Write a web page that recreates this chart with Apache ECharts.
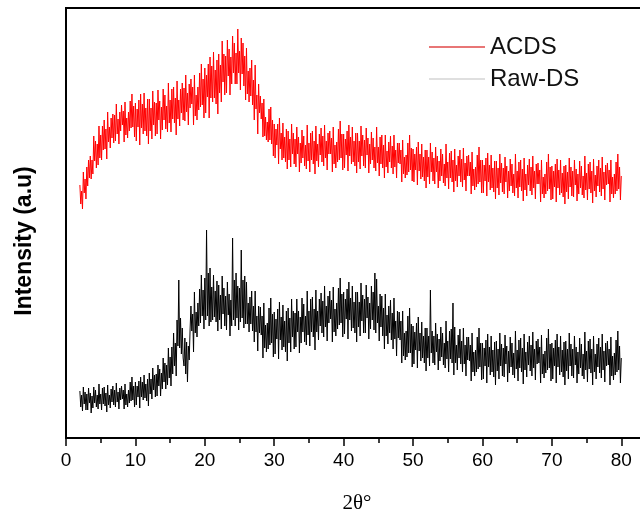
<!DOCTYPE html>
<html>
<head>
	<meta charset="UTF-8">
	<title>XRD</title>
	<style>
		html, body { margin: 0; padding: 0; background: #fff; }
	</style>
</head>
<body>
<div id="main" style="width: 640px; height: 520px;"></div>

<script src="https://cdn.jsdelivr.net/npm/echarts/dist/echarts.min.js" type="text/javascript"></script>
<script type="text/javascript">
	// scan from 2 to 80 degrees, one reading every 0.125 degree
	var scanStart = 2;
	var scanStep = 0.125;
	var xTicks = [0, 10, 20, 30, 40, 50, 60, 70, 80];
	var seriesNames = ['ACDS', 'Raw-DS'];

	// intensities (a.u.), 8 readings per degree
	var acds = [
		253, 234, 247, 229, 266, 245, 259, 239,
		271, 252, 278, 260, 282, 259, 278, 264,
		302, 277, 297, 270, 294, 273, 312, 280,
		303, 278, 312, 288, 318, 289, 309, 279,
		326, 296, 311, 290, 320, 300, 324, 295,
		323, 297, 334, 304, 319, 294, 326, 307,
		333, 313, 327, 296, 336, 303, 320, 300,
		326, 307, 337, 310, 344, 311, 332, 301,
		335, 297, 329, 311, 338, 293, 344, 310,
		334, 304, 345, 307, 330, 302, 339, 294,
		339, 307, 330, 299, 347, 313, 336, 302,
		335, 304, 348, 318, 337, 299, 331, 308,
		349, 318, 343, 309, 332, 306, 355, 315,
		338, 306, 349, 319, 351, 315, 340, 303,
		357, 319, 338, 312, 349, 325, 355, 318,
		350, 317, 363, 326, 345, 313, 354, 330,
		359, 334, 351, 313, 363, 322, 343, 318,
		351, 328, 365, 331, 374, 333, 359, 320,
		370, 325, 363, 341, 374, 320, 381, 340,
		372, 336, 386, 340, 368, 334, 378, 324,
		384, 345, 373, 336, 397, 356, 384, 343,
		382, 345, 398, 362, 389, 343, 381, 354,
		402, 365, 395, 354, 385, 354, 409, 365,
		387, 348, 400, 364, 395, 352, 382, 338,
		390, 344, 367, 336, 370, 342, 378, 333,
		358, 318, 373, 329, 343, 304, 354, 325,
		342, 319, 335, 301, 339, 302, 321, 298,
		316, 296, 329, 298, 331, 294, 318, 282,
		314, 280, 309, 293, 314, 274, 320, 289,
		305, 278, 315, 280, 301, 276, 309, 269,
		307, 278, 299, 271, 314, 284, 305, 274,
		299, 271, 311, 284, 301, 266, 295, 275,
		308, 280, 302, 272, 293, 269, 313, 277,
		295, 266, 305, 278, 307, 274, 297, 264,
		312, 277, 294, 271, 304, 283, 310, 276,
		302, 272, 313, 280, 297, 268, 305, 284,
		307, 284, 300, 266, 311, 274, 293, 270,
		296, 276, 309, 278, 317, 280, 304, 268,
		304, 270, 299, 283, 307, 267, 313, 282,
		301, 274, 311, 276, 297, 272, 305, 265,
		305, 276, 297, 269, 312, 282, 303, 272,
		298, 270, 310, 283, 300, 265, 294, 274,
		306, 278, 300, 270, 291, 267, 311, 275,
		291, 262, 301, 274, 303, 270, 293, 260,
		303, 271, 287, 265, 296, 276, 302, 270,
		292, 264, 303, 271, 288, 260, 295, 275,
		295, 274, 288, 256, 298, 264, 281, 260,
		283, 263, 295, 266, 303, 268, 290, 257,
		289, 256, 284, 268, 291, 253, 296, 267,
		284, 259, 294, 261, 281, 257, 288, 250,
		288, 261, 281, 254, 295, 266, 286, 257,
		280, 254, 291, 266, 282, 250, 277, 257,
		289, 262, 284, 255, 274, 252, 294, 260,
		276, 249, 285, 260, 287, 256, 278, 246,
		289, 257, 273, 251, 282, 262, 288, 256,
		279, 251, 290, 258, 275, 247, 282, 262,
		283, 262, 276, 244, 286, 252, 269, 248,
		271, 251, 283, 254, 291, 256, 278, 245,
		278, 245, 273, 257, 280, 242, 285, 256,
		273, 248, 283, 250, 270, 246, 277, 239,
		277, 250, 270, 243, 284, 255, 275, 246,
		270, 244, 281, 256, 272, 240, 267, 247,
		279, 252, 274, 245, 264, 242, 284, 250,
		267, 240, 276, 251, 278, 247, 269, 237,
		280, 248, 264, 242, 273, 253, 279, 247,
		271, 243, 282, 250, 267, 239, 274, 254,
		275, 254, 268, 236, 278, 244, 261, 240,
		264, 244, 276, 247, 284, 249, 271, 238,
		272, 239, 267, 251, 274, 236, 279, 250,
		268, 243, 278, 245, 265, 241, 272, 234,
		273, 246, 266, 239, 280, 251, 271, 242,
		267, 241, 278, 253, 269, 237, 264, 244,
		277, 250, 272, 243, 262, 240, 282, 248,
		265, 238, 274, 249, 276, 245, 267, 235,
		279, 247, 263, 241, 272, 252, 278, 246,
		270, 242, 281, 249, 266, 238, 273, 253,
		275, 254, 268, 236, 278, 244, 261, 240,
		264, 244, 276, 247, 284, 249, 271, 238,
		262
	];

	var rawDs = [
		47, 31, 43, 27, 51, 34, 46, 28,
		44, 28, 50, 35, 45, 25, 42, 30,
		51, 35, 48, 31, 43, 29, 54, 34,
		44, 28, 50, 34, 51, 32, 45, 26,
		53, 33, 43, 30, 49, 36, 52, 33,
		48, 31, 55, 36, 46, 29, 50, 38,
		52, 39, 48, 29, 54, 33, 44, 31,
		48, 35, 56, 37, 61, 38, 52, 31,
		56, 33, 52, 41, 57, 30, 61, 41,
		56, 38, 63, 40, 54, 37, 59, 32,
		65, 44, 59, 39, 70, 48, 63, 41,
		64, 42, 73, 52, 69, 42, 65, 49,
		80, 56, 75, 49, 73, 53, 90, 60,
		81, 52, 91, 64, 105, 72, 95, 62,
		118, 92, 158, 90, 120, 84, 110, 80,
		72, 100, 64, 96, 56, 92, 78, 108,
		132, 107, 124, 86, 146, 105, 126, 101,
		135, 112, 149, 115, 163, 122, 148, 109,
		160, 118, 208, 122, 165, 112, 170, 116,
		151, 118, 163, 121, 147, 116, 157, 107,
		153, 118, 143, 109, 162, 124, 150, 112,
		142, 108, 156, 123, 144, 102, 138, 112,
		200, 118, 158, 112, 165, 120, 152, 108,
		150, 116, 188, 120, 158, 110, 162, 114,
		156, 114, 135, 106, 141, 114, 147, 107,
		132, 96, 147, 106, 122, 87, 132, 105,
		131, 103, 122, 80, 135, 90, 113, 86,
		115, 89, 130, 93, 140, 95, 124, 81,
		126, 84, 119, 99, 129, 79, 136, 98,
		121, 88, 133, 91, 117, 86, 127, 77,
		130, 95, 120, 86, 139, 101, 127, 89,
		125, 91, 139, 106, 127, 85, 121, 95,
		140, 106, 134, 96, 122, 93, 147, 103,
		127, 92, 139, 106, 141, 101, 129, 88,
		148, 106, 127, 98, 139, 112, 145, 105,
		137, 101, 152, 111, 132, 97, 142, 115,
		147, 119, 138, 96, 151, 106, 129, 102,
		135, 109, 150, 113, 160, 115, 144, 101,
		146, 104, 139, 119, 149, 99, 156, 118,
		140, 107, 152, 110, 136, 105, 146, 96,
		146, 111, 136, 102, 155, 117, 143, 105,
		139, 105, 153, 120, 141, 99, 135, 109,
		152, 118, 146, 108, 165, 105, 159, 115,
		132, 97, 144, 111, 142, 102, 130, 89,
		144, 102, 123, 94, 132, 105, 138, 98,
		125, 89, 140, 99, 117, 82, 127, 100,
		126, 98, 117, 75, 127, 82, 105, 78,
		107, 81, 122, 85, 130, 85, 114, 71,
		112, 74, 106, 88, 115, 70, 121, 87,
		105, 77, 116, 80, 102, 75, 110, 67,
		110, 80, 102, 72, 148, 85, 107, 75,
		102, 73, 115, 86, 104, 68, 99, 77,
		111, 81, 105, 73, 95, 70, 117, 79,
		97, 66, 107, 79, 109, 75, 135, 63,
		111, 75, 93, 68, 103, 80, 109, 74,
		97, 66, 110, 74, 93, 62, 101, 78,
		101, 77, 93, 57, 105, 66, 86, 62,
		88, 66, 101, 69, 110, 71, 95, 58,
		95, 59, 90, 72, 98, 55, 104, 71,
		91, 63, 102, 66, 88, 61, 96, 53,
		97, 67, 89, 59, 105, 72, 94, 62,
		90, 61, 103, 74, 92, 56, 87, 65,
		101, 71, 95, 63, 85, 60, 107, 69,
		88, 57, 98, 70, 100, 66, 90, 54,
		104, 68, 86, 61, 96, 73, 102, 67,
		93, 62, 106, 70, 89, 58, 97, 74,
		99, 75, 91, 55, 103, 64, 84, 60,
		87, 65, 100, 68, 109, 70, 94, 57,
		95, 59, 90, 72, 98, 55, 104, 71,
		91, 63, 102, 66, 88, 61, 96, 53,
		97, 67, 89, 59, 105, 72, 94, 62,
		89, 60, 102, 73, 91, 55, 86, 64,
		100, 70, 94, 62, 84, 59, 106, 68,
		87, 56, 97, 69, 99, 65, 89, 53,
		102, 66, 84, 59, 94, 71, 100, 65,
		91, 60, 104, 68, 87, 56, 95, 72,
		97, 73, 89, 53, 101, 62, 82, 58,
		85, 63, 98, 66, 107, 68, 92, 55,
		80
	];

	function toPairs(values) {
		return values.map(function(v, i) {
			return [scanStart + i * scanStep, v];
		});
	}

	var myChart = echarts.init(document.getElementById('main'));

	var option = {
		backgroundColor: '#fff',
		animation: false,
		grid: {
			left: 66,
			top: 8,
			width: 590,
			height: 430,
			outerBoundsMode: 'none',
			containLabel: false,
			show: true,
			borderColor: '#000',
			borderWidth: 2
		},
		legend: {
			orient: 'vertical',
			left: 424,
			top: 30,
			icon: 'rect',
			itemWidth: 56,
			itemHeight: 1.5,
			itemGap: 8,
			textStyle: {
				fontFamily: 'Liberation Sans, Arial, sans-serif',
				fontSize: 24,
				lineHeight: 22,
				color: '#111'
			},
			data: [
				{ name: seriesNames[0], itemStyle: { color: '#e04848' } },
				{ name: seriesNames[1], itemStyle: { color: '#d4d4d4' } }
			]
		},
		xAxis: {
			type: 'value',
			min: 0,
			max: 85,
			interval: 10,
			name: '2θ°',
			nameLocation: 'middle',
			nameGap: 55,
			nameTextStyle: {
				fontFamily: 'Liberation Serif, Times New Roman, serif',
				fontSize: 21,
				color: '#000',
				padding: [0, 8, 0, 0]
			},
			axisLine: { lineStyle: { color: '#000', width: 2 } },
			axisTick: { length: 8, lineStyle: { color: '#000', width: 1.5 } },
			minorTick: { show: true, splitNumber: 2, length: 5, lineStyle: { color: '#000', width: 1.5 } },
			axisLabel: {
				margin: 13,
				fontFamily: 'Liberation Sans, Arial, sans-serif',
				fontSize: 19,
				color: '#000',
				formatter: function(v) {
					return xTicks.indexOf(v) >= 0 ? String(v) : '';
				}
			},
			splitLine: { show: false }
		},
		yAxis: {
			type: 'value',
			min: 0,
			max: 430,
			name: 'Intensity (a.u)',
			nameLocation: 'middle',
			nameGap: 30,
			nameTextStyle: {
				fontFamily: 'Liberation Sans, Arial, sans-serif',
				fontSize: 23,
				fontWeight: 'bold',
				color: '#000',
				padding: [0, 36, 0, 0]
			},
			axisLine: { show: true, lineStyle: { color: '#000', width: 2 } },
			axisTick: { show: false },
			axisLabel: { show: false },
			splitLine: { show: false }
		},
		series: [
			{
				name: seriesNames[0],
				type: 'line',
				symbol: 'none',
				data: toPairs(acds),
				lineStyle: { color: '#ff0000', width: 1 },
				itemStyle: { color: '#ff0000' }
			},
			{
				name: seriesNames[1],
				type: 'line',
				symbol: 'none',
				data: toPairs(rawDs),
				lineStyle: { color: '#000', width: 1 },
				itemStyle: { color: '#000' }
			}
		]
	};
	myChart.setOption(option);
</script>
</body>
</html>
